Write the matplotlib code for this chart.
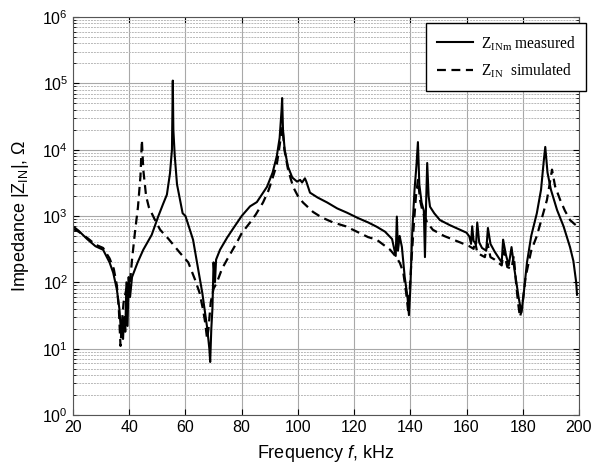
import numpy as np
import matplotlib
matplotlib.use("Agg")
from matplotlib import pyplot as plt
from matplotlib.ticker import LogLocator, NullFormatter

plt.rcParams['font.family'] = ['Liberation Sans', 'DejaVu Sans']
plt.rcParams['mathtext.fontset'] = 'custom'
plt.rcParams['mathtext.rm'] = 'Liberation Sans'
plt.rcParams['mathtext.it'] = 'Liberation Sans:italic'

# measured |Z_INm| (kHz, ohm)
f_meas = [20, 22, 25, 28, 30.7, 33, 34.3, 35.6, 36.5, 37.2, 37.5, 37.8, 38.2, 38.6,
          39.0, 39.4, 39.8, 40.3, 41, 43, 45, 48, 50.3, 52, 53.4, 54.5, 55.2, 55.5,
          55.7, 56.2, 57, 59, 60, 62.7, 66, 67.7, 68.5, 68.8, 69.2, 69.6, 70, 70.5,
          70.9, 72.3, 74.8, 77, 80, 83, 85.4, 87.5, 89, 91, 92.5, 93.5, 94.2, 94.4,
          94.7, 95.3, 96.5, 98, 99.7, 100.8, 101.5, 102.5, 103, 104.3, 107, 110.4,
          114, 117.5, 121.4, 125, 128, 131, 133.5, 134.8, 135.2, 135.6, 136.2, 137,
          138, 139.0, 139.5, 140, 140.7, 141.5, 142.2, 142.7, 143.2, 144, 144.8,
          145.2, 145.6, 146, 146.5, 147, 148.5, 150.5, 154, 157.7, 160, 161, 161.6,
          162, 162.5, 163.4, 163.8, 164.5, 165.5, 167, 167.6, 168.5, 170, 172.5, 173,
          174, 175, 176, 177, 178.5, 179.5, 180.2, 181.5, 183, 185, 186.5, 187.5,
          188, 188.8, 190, 192.2, 194.5, 196.8, 198, 199, 199.3]
z_meas = [700, 600, 450, 350, 310, 200, 140, 78, 40, 15, 25, 14, 30, 18,
          100, 22, 120, 60, 120, 200, 310, 520, 980, 1500, 2100, 4400, 10000, 110000,
          20000, 8000, 3000, 1100, 1000, 440, 69, 21, 10, 6.3, 20, 40, 200, 100,
          220, 310, 470, 650, 1000, 1400, 1620, 2200, 2750, 4500, 8000, 15000, 40000, 60000,
          20000, 10000, 5500, 3800, 3300, 3500, 3200, 3700, 3300, 2250, 1900, 1600,
          1300, 1120, 930, 800, 690, 580, 450, 250, 980, 300, 500, 340,
          120, 60, 32, 80, 600, 2500, 6000, 13000, 3000, 1600, 1200,
          240, 1500, 6300, 2000, 1380, 1100, 870, 730, 620, 560, 490, 380,
          700, 420, 380, 800, 400, 330, 300, 660, 380, 290, 200, 440,
          260, 180, 340, 160, 60, 35, 60, 200, 500, 1100, 2500, 7000,
          11000, 4500, 2500, 1230, 700, 340, 210, 100, 65]

# simulated |Z_IN| (kHz, ohm)
f_sim = [20, 22, 25, 28, 30.7, 33, 34.5, 35.6, 36.3, 36.9, 37.4, 38, 39, 40.3, 41,
         42, 43.1, 44, 44.5, 45, 46, 47, 49, 51, 54, 58, 61, 63.4, 65, 66.3, 67,
         67.7, 68.2, 69, 70, 71.2, 73, 74.8, 78.3, 80, 83, 85, 87.6, 89.5, 90.8,
         92.5, 93.8, 94.5, 95.2, 96.5, 98.3, 100, 101.8, 105.4, 108.5, 112.5, 117,
         121, 125, 128, 132.8, 135, 136.3, 137.5, 138.5, 139.2, 139.8, 140.5, 141.3,
         142, 142.7, 143.5, 144.5, 146, 148, 152, 157.7, 161, 162.5, 163, 163.8,
         165, 166.5, 167.5, 168.5, 170, 172.5, 173.2, 174.5, 176, 176.8, 177.5,
         178.3, 179, 179.7, 181, 183, 185, 187, 188.6, 189.8, 190.4, 191.5, 193.3,
         195, 196.8, 198.5, 199.7]
z_sim = [640, 580, 470, 370, 330, 230, 160, 90, 40, 11, 25, 50, 80, 100, 220,
         550, 1350, 4000, 14000, 5000, 2000, 1350, 900, 620, 450, 280, 200, 110, 70, 38, 25,
         14, 20, 50, 80, 100, 160, 220, 400, 550, 800, 1050, 1600, 2400, 3500,
         6000, 14000, 22000, 10000, 5000, 2750, 2000, 1600, 1150, 950, 800, 700,
         580, 480, 440, 310, 240, 195, 140, 70, 38, 80, 250, 800,
         2000, 3500, 1700, 1100, 800, 620, 500, 400, 350, 320, 420, 280,
         260, 240, 380, 240, 220, 180, 300, 170, 160, 250, 110,
         50, 30, 40, 120, 300, 500, 1000, 1750, 3500, 5000, 2800, 1750,
         1200, 870, 750, 690]

fig = plt.figure(figsize=(6.02, 4.69), dpi=100)
ax = fig.add_axes([73/602, 1 - 415/469, 506/602, 398/469])

ax.semilogy(f_meas, z_meas, color='black', lw=1.5, label=r'Z$_\mathregular{INm}$ measured')
ax.semilogy(f_sim, z_sim, color='black', lw=1.6, dashes=(4, 2.5),
            label=r'Z$_\mathregular{IN}$  simulated')

ax.set_xlim(20, 200)
ax.set_ylim(1, 1e6)
ax.set_xticks(np.arange(20, 201, 20))
ax.yaxis.set_major_locator(LogLocator(base=10, numticks=10))
ax.yaxis.set_minor_locator(LogLocator(base=10, subs=np.arange(2, 10), numticks=20))
ax.yaxis.set_minor_formatter(NullFormatter())

ax.grid(True, which='major', color='#a8a8a8', lw=0.8)
ax.grid(True, which='minor', axis='y', color='#b8b8b8', lw=0.7, ls=(0, (2, 1)))
ax.tick_params(which='both', direction='in', top=True, right=True, labelsize=11.5)
ax.tick_params(which='major', length=4)
ax.tick_params(which='minor', length=2)
for s in ax.spines.values():
    s.set_color('#555555')

ax.set_xlabel(r'Frequency $\it{f}$, kHz', fontsize=13, labelpad=6)
ax.set_ylabel(r'Impedance |Z$_\mathregular{IN}$|, Ω', fontsize=13, labelpad=8)

leg = ax.legend(loc='upper left', bbox_to_anchor=(0.698, 0.985), borderaxespad=0,
                prop={'family': 'Liberation Serif', 'size': 11.2},
                fancybox=False, edgecolor='black', framealpha=1,
                handlelength=2.3, handletextpad=0.5, labelspacing=0.55, borderpad=0.7)
leg.get_frame().set_linewidth(1.0)

fig.savefig('out.png', dpi=100)
